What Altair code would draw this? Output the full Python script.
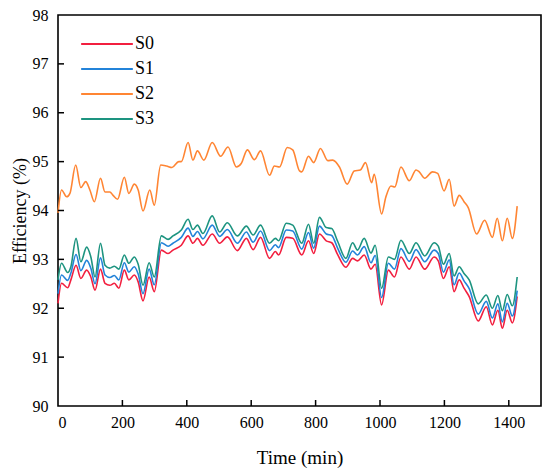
import altair as alt
import pandas as pd

# ---- data ----
t_hi = [0, 11, 27, 37, 55, 71, 86, 99, 113, 132, 146, 161, 171, 185, 206, 220, 237, 249, 264, 285,
        299, 319, 337, 354, 375, 383, 404, 419, 433, 453, 479, 505, 528, 554, 569, 588, 610, 629, 657, 672,
        688, 712, 729, 750, 757, 778, 794, 815, 838, 853, 874, 898, 920, 939, 955, 974, 982, 1005, 1018, 1034,
        1046, 1065, 1091, 1112, 1122, 1139, 1163, 1179, 1199, 1215, 1230, 1246, 1261, 1274, 1300, 1325, 1349, 1364, 1380, 1395,
        1411, 1426]
s2 = [93.95, 94.42, 94.28, 94.35, 94.93, 94.47, 94.59, 94.42, 94.18, 94.66, 94.38, 94.38, 94.31, 94.23, 94.68, 94.35, 94.54, 94.42, 93.99, 94.42,
      94.11, 94.93, 94.91, 94.88, 95.0, 95.0, 95.39, 95.03, 95.22, 95.03, 95.39, 95.11, 95.30, 94.89, 94.96, 95.24, 95.04, 95.22, 94.72, 94.91,
      94.89, 95.29, 95.24, 94.81, 94.79, 95.11, 94.98, 95.27, 95.02, 95.03, 94.89, 94.54, 94.81, 94.83, 94.98, 94.57, 94.74, 93.93, 94.27, 94.50,
      94.48, 94.89, 94.61, 94.83, 94.79, 94.66, 94.79, 94.76, 94.40, 94.64, 94.09, 94.31, 94.18, 94.06, 93.52, 93.80, 93.45, 93.84, 93.38, 93.84,
      93.43, 94.09]

t_lo = [0, 11, 30, 40, 56, 71, 89, 102, 115, 132, 146, 161, 175, 189, 206, 220, 237, 249, 264, 283,
        299, 321, 342, 357, 383, 404, 419, 433, 450, 479, 502, 526, 557, 585, 606, 629, 657, 675, 685, 709,
        729, 757, 778, 794, 812, 833, 850, 869, 894, 915, 930, 951, 972, 985, 1005, 1026, 1045, 1065, 1091, 1112,
        1139, 1168, 1181, 1197, 1215, 1230, 1246, 1261, 1277, 1305, 1330, 1349, 1366, 1380, 1395, 1411, 1426]
s3 = [92.58, 92.92, 92.73, 92.85, 93.43, 92.95, 93.25, 93.05, 92.64, 93.33, 92.88, 92.82, 92.86, 92.80, 93.09, 92.92, 93.05, 92.90, 92.47, 92.93,
      92.64, 93.48, 93.41, 93.48, 93.60, 93.82, 93.61, 93.70, 93.53, 93.89, 93.56, 93.75, 93.48, 93.68, 93.50, 93.70, 93.33, 93.43, 93.38, 93.74,
      93.70, 93.33, 93.72, 93.33, 93.86, 93.65, 93.63, 93.36, 93.02, 93.34, 93.19, 93.43, 93.13, 93.29, 92.41, 93.05, 93.00, 93.39, 93.12, 93.34,
      93.07, 93.34, 93.27, 92.90, 93.12, 92.66, 92.85, 92.71, 92.58, 92.09, 92.27, 92.00, 92.26, 91.95, 92.28, 92.05, 92.64]
s0 = [92.10, 92.51, 92.42, 92.58, 92.88, 92.61, 92.78, 92.64, 92.37, 92.80, 92.51, 92.47, 92.51, 92.41, 92.78, 92.58, 92.68, 92.54, 92.15, 92.64,
      92.34, 93.19, 93.12, 93.19, 93.29, 93.48, 93.33, 93.43, 93.29, 93.52, 93.33, 93.46, 93.18, 93.43, 93.20, 93.45, 93.02, 93.16, 93.09, 93.45,
      93.43, 93.09, 93.38, 93.12, 93.52, 93.38, 93.34, 93.09, 92.84, 93.02, 92.97, 93.09, 92.80, 92.90, 92.07, 92.78, 92.64, 93.05, 92.80, 93.05,
      92.80, 93.05, 92.97, 92.61, 92.85, 92.34, 92.58, 92.41, 92.24, 91.74, 92.03, 91.66, 91.96, 91.59, 91.96, 91.70, 92.24]
s1 = [92.30, 92.68, 92.57, 92.72, 93.10, 92.77, 92.98, 92.82, 92.50, 93.03, 92.68, 92.63, 92.67, 92.58, 92.93, 92.74, 92.85, 92.70, 92.30, 92.80,
      92.48, 93.34, 93.27, 93.33, 93.45, 93.64, 93.47, 93.57, 93.42, 93.70, 93.47, 93.61, 93.33, 93.56, 93.35, 93.58, 93.18, 93.30, 93.24, 93.60,
      93.58, 93.21, 93.55, 93.23, 93.68, 93.52, 93.49, 93.22, 92.94, 93.17, 93.09, 93.26, 92.93, 93.08, 92.22, 92.92, 92.80, 93.22, 92.96, 93.20,
      92.95, 93.19, 93.12, 92.74, 92.99, 92.48, 92.72, 92.56, 92.40, 91.88, 92.14, 91.80, 92.09, 91.72, 92.10, 91.84, 92.36]

series = ["S0", "S1", "S2", "S3"]
colors = ["#F21F3F", "#2383D9", "#FF8533", "#1D9480"]
x_ticks = [0, 200, 400, 600, 800, 1000, 1200, 1400]
y_ticks = [90, 91, 92, 93, 94, 95, 96, 97, 98]

rows = []
for name, tt, vv in [("S0", t_lo, s0), ("S1", t_lo, s1), ("S2", t_hi, s2), ("S3", t_lo, s3)]:
    for a, b in zip(tt, vv):
        rows.append({"t": a, "v": b, "s": name})
df = pd.DataFrame(rows)

W, H = 483, 391
FONT = "Liberation Serif"

xs = alt.Scale(domain=[0, 1500], nice=False)
ys = alt.Scale(domain=[90, 98], nice=False)

ax_x = alt.Axis(values=x_ticks, format="d", domain=False, ticks=False, grid=False,
                labelFont=FONT, labelFontSize=16, labelColor="black", labelPadding=8,
                titleFont=FONT, titleFontSize=19, titleFontWeight="normal",
                titleColor="black", titlePadding=18)
ax_y = alt.Axis(values=y_ticks, format="d", domain=False, ticks=False, grid=False,
                labelFont=FONT, labelFontSize=16, labelColor="black", labelPadding=10,
                titleFont=FONT, titleFontSize=18, titleFontWeight="normal",
                titleColor="black", titlePadding=3)

lines = alt.Chart(df).mark_line(strokeWidth=1.6, interpolate="monotone").encode(
    x=alt.X("t:Q", scale=xs, title="Time (min)", axis=ax_x),
    y=alt.Y("v:Q", scale=ys, title="Efficiency (%)", axis=ax_y),
    color=alt.Color("s:N", scale=alt.Scale(domain=series, range=colors),
                    legend=alt.Legend(title=None, orient="none", legendX=36, legendY=16,
                                      symbolType="M-2.2,0L2.2,0", symbolSize=552, symbolStrokeWidth=2,
                                      labelFont=FONT, labelFontSize=18, labelColor="black",
                                      labelOffset=15, rowPadding=3)),
    detail="s:N",
)

xt = pd.DataFrame({"t": x_ticks[1:]})
yt = pd.DataFrame({"v": y_ticks[1:-1]})

xtick_marks = alt.Chart(xt).mark_rule(color="black", strokeWidth=1.5).encode(
    x=alt.X("t:Q", scale=xs, title="Time (min)", axis=ax_x), y=alt.value(H), y2=alt.value(H - 6))
ytick_marks = alt.Chart(yt).mark_rule(color="black", strokeWidth=1.5).encode(
    y=alt.Y("v:Q", scale=ys, title="Efficiency (%)", axis=ax_y), x=alt.value(0), x2=alt.value(6))

chart = alt.layer(lines, xtick_marks, ytick_marks).properties(
    width=W, height=H,
    padding={"left": 50, "top": 7, "right": 1, "bottom": 64},
    autosize="none",
).configure(background="white", font=FONT).configure_view(
    stroke="black", strokeWidth=1.6
).configure_axis(labelFont=FONT, titleFont=FONT).configure_legend(labelFont=FONT)

chart.save("out.html", embed_options={"renderer": "svg", "actions": False})
